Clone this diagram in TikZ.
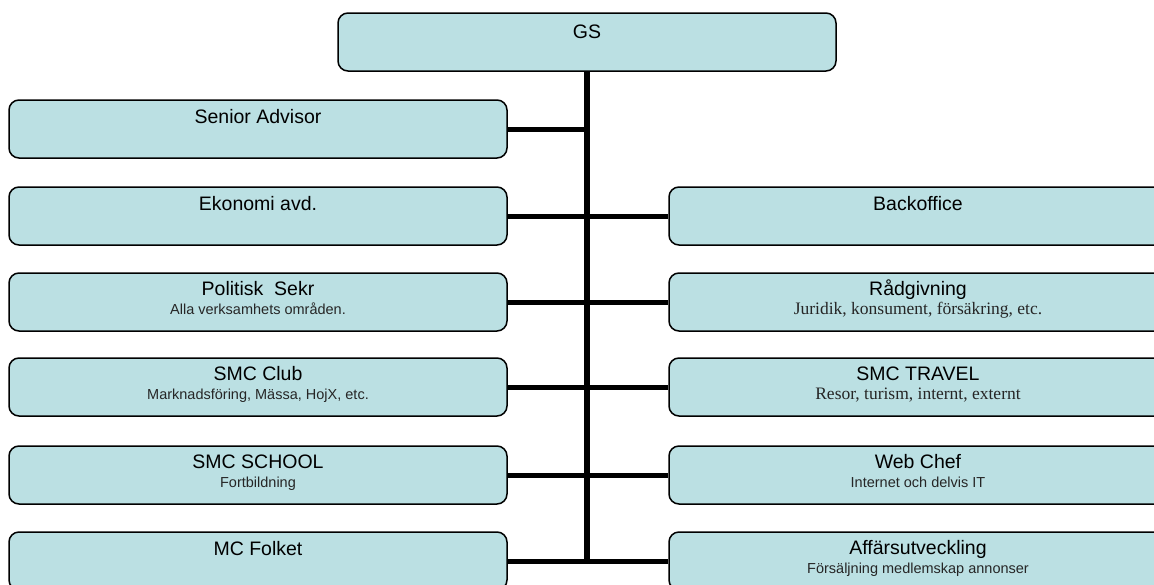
\documentclass[tikz,border=0pt]{standalone}
\usepackage{fontspec}
\setmainfont{Liberation Sans}
\newfontfamily\timesfont{Liberation Serif}
\usepackage{tikz}
\usetikzlibrary{positioning}

\definecolor{boxblue}{RGB}{187,224,227}

\begin{document}
\begin{tikzpicture}[x=1pt,y=-1pt]
\tikzstyle{every node}=[inner sep=0pt]
\tikzstyle{unit}=[draw, line width=1.5pt, rounded corners=10pt, fill=boxblue, minimum width=498pt, minimum height=58pt]
\tikzstyle{head}=[anchor=base, font=\fontsize{19.5}{22}\selectfont]
\tikzstyle{sub}=[anchor=base, font=\fontsize{14.5}{17}\selectfont, text=black!85]
\tikzstyle{subserif}=[anchor=base, font=\timesfont\fontsize{17.5}{20}\selectfont, text=black!85]
\tikzstyle{feed}=[line width=5pt]
\tikzstyle{trunk}=[line width=6.5pt]

\useasboundingbox (0,0) rectangle (1154,584);

\node[unit] (gs) at (587,42) {};

% left column
\node[unit] (senior) at (258,129) {};
\node[unit] (ekonomi) at (258,216) {};
\node[unit] (politisk) at (258,302) {};
\node[unit] (club) at (258,387) {};
\node[unit] (school) at (258,475) {};
\node[unit] (folket) at (258,561) {};

% right column
\node[unit] (backoffice) at (918,216) {};
\node[unit] (radgivning) at (918,302) {};
\node[unit] (travel) at (918,387) {};
\node[unit] (webchef) at (918,475) {};
\node[unit] (affar) at (918,561) {};

\coordinate (trunkend) at (587,564);

% the lines
\draw[trunk] (gs.south) -- (trunkend);
\draw[feed] (senior.east) -- (senior.east -| gs.south);
\draw[feed] (ekonomi.east) -- (backoffice.west);
\draw[feed] (politisk.east) -- (radgivning.west);
\draw[feed] (club.east) -- (travel.west);
\draw[feed] (school.east) -- (webchef.west);
\draw[feed] (folket.east) -- (affar.west);

% texts
\node[head] (gsT) at ([yshift=-26pt]gs.north) {GS};
\node[head] (seniorT) at ([yshift=-24pt]senior.north) {Senior Advisor};
\node[head] (ekonomiT) at ([yshift=-24pt]ekonomi.north) {Ekonomi avd.};
\node[head] (politiskT) at ([yshift=-23pt]politisk.north) {Politisk \ Sekr};
\node[sub] (politiskS) at ([yshift=-42pt]politisk.north) {Alla verksamhets områden.};
\node[head] (clubT) at ([yshift=-23pt]club.north) {SMC Club};
\node[sub] (clubS) at ([yshift=-42pt]club.north) {Marknadsföring, Mässa, HojX, etc.};
\node[head] (schoolT) at ([yshift=-23pt]school.north) {SMC SCHOOL};
\node[sub] (schoolS) at ([yshift=-42pt]school.north) {Fortbildning};
\node[head] (folketT) at ([yshift=-24pt]folket.north) {MC Folket};

\node[head] (backofficeT) at ([yshift=-24pt]backoffice.north) {Backoffice};
\node[head] (radgivningT) at ([yshift=-23pt]radgivning.north) {Rådgivning};
\node[subserif] (radgivningS) at ([yshift=-42pt]radgivning.north) {Juridik, konsument, försäkring, etc.};
\node[head] (travelT) at ([yshift=-23pt]travel.north) {SMC TRAVEL};
\node[subserif] (travelS) at ([yshift=-42pt]travel.north) {Resor, turism, internt, externt};
\node[head] (webchefT) at ([yshift=-23pt]webchef.north) {Web Chef};
\node[sub] (webchefS) at ([yshift=-42pt]webchef.north) {Internet och delvis IT};
\node[head] (affarT) at ([yshift=-23pt]affar.north) {Affärsutveckling};
\node[sub] (affarS) at ([yshift=-42pt]affar.north) {Försäljning medlemskap annonser};
\end{tikzpicture}
\end{document}
